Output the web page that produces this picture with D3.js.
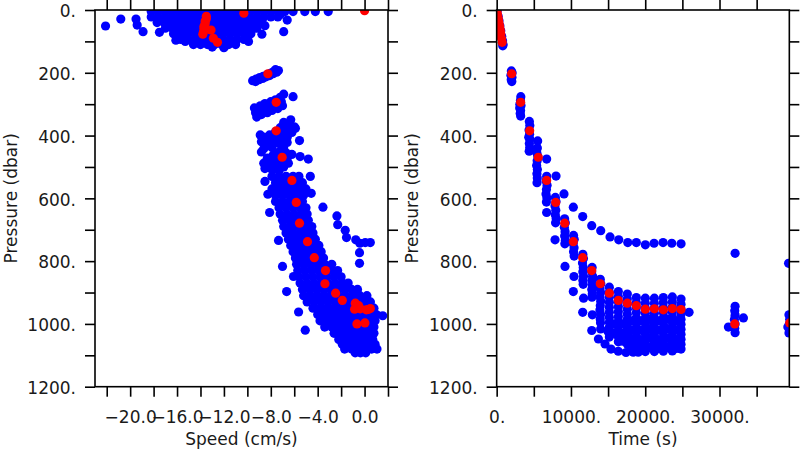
<!DOCTYPE html>
<html><head><meta charset="utf-8">
<script src="https://cdn.jsdelivr.net/npm/d3@7/dist/d3.min.js"></script>
<style>
body{margin:0;background:#fff;}
svg text{font-family:"DejaVu Sans",sans-serif;font-size:17px;fill:#1a1a1a;}
</style>
</head><body>
<svg id="chart" width="800" height="450"></svg>
<script>
// ---------- tick values / labels ----------
const pressureTicks = [0,100,200,300,400,500,600,700,800,900,1000,1100,1200];
const pressureLabels = [0,200,400,600,800,1000,1200];
const speedTicks = [-22,-20,-18,-16,-14,-12,-10,-8,-6,-4,-2,0,2];
const speedLabels = [-20,-16,-12,-8,-4,0];
const timeTicks = [0,5000,10000,15000,20000,25000,30000,35000];
const timeLabels = [0,10000,20000,30000];

// ---------- bin means (red) ----------
const meanPressure = [2,10,20,28,36,44,52,58,64,70,77,90,103,203,294,385,469,543,613,679,738,789,830,872,902,925,934,942,953,952,955,951,954,1000,997];
const meanSpeed = [0.0,-10.3,-13.5,-13.5,-13.6,-13.6,-13.7,-13.7,-13.1,-13.75,-13.8,-12.9,-12.55,-8.25,-7.54,-7.54,-7.03,-6.2,-5.83,-5.55,-4.87,-4.29,-3.33,-3.38,-2.47,-1.9,-0.79,-0.5,-0.85,-0.37,0.15,0.49,0.3,-0.65,0.03];
const meanTime = [0,70,140,200,260,320,380,420,460,500,550,640,740,2020,3230,4440,5600,6730,7950,9160,10320,11580,12790,13950,15170,16380,17590,18800,20010,21230,22440,23650,24820,32050,39450];

// ---------- raw samples, speed panel: rows [pressure, speeds] ----------
const speedRows = [
 [5,[-18.2,-17.6,-17.0,-16.4,-15.8,-15.2,-14.6,-14.0,-13.4,-12.8,-12.2,-11.6,-11.0,-10.4,-9.8,-9.2,-8.6,-8.0,-7.4,-6.8,-6.1,-5.1,-4.2,-3.1]],
 [22,[-18.2,-17.6,-17.0,-16.4,-15.8,-15.2,-14.6,-14.0,-13.4,-12.8,-12.2,-11.6,-11.0,-10.4,-9.8,-9.2,-8.6,-8.0,-7.4]],
 [40,[-17.7,-17.1,-16.5,-15.9,-15.3,-14.7,-14.1,-13.5,-12.9,-12.3,-11.7,-11.1,-10.5,-9.9,-9.3,-8.8]],
 [58,[-17.0,-16.4,-15.8,-15.2,-14.6,-14.0,-13.4,-12.8,-12.2,-11.6,-11.0,-10.4,-9.8,-9.2]],
 [76,[-16.3,-15.7,-15.1,-14.5,-13.9,-13.3,-12.7,-12.1,-11.5,-10.9,-10.3,-9.7]],
 [94,[-15.7,-15.1,-14.5,-13.9,-13.3,-12.7,-12.1,-11.5,-10.9,-10.3,-10.0]],
 [110,[-14.6,-14.0,-13.4,-12.8,-12.2,-11.6,-11.0]],
 [530,[-7.9,-7.3,-6.7,-6.1,-5.6]],
 [550,[-7.6,-7.0,-6.4,-5.8,-5.3]],
 [570,[-7.9,-7.3,-6.7,-6.1,-5.5,-5.0]],
 [590,[-7.6,-7.0,-6.4,-5.8,-5.2]],
 [610,[-7.6,-7.0,-6.4,-5.8,-5.3]],
 [630,[-7.3,-6.7,-6.1,-5.5,-5.0]],
 [650,[-7.2,-6.6,-6.0,-5.4,-4.9]],
 [670,[-7.0,-6.4,-5.8,-5.2,-4.8]],
 [690,[-6.9,-6.3,-5.7,-5.1,-4.5]],
 [710,[-6.7,-6.1,-5.5,-4.9,-4.4]],
 [730,[-6.5,-5.9,-5.3,-4.7,-4.2]],
 [750,[-6.3,-5.7,-5.1,-4.5,-3.9]],
 [770,[-6.1,-5.5,-4.9,-4.3,-3.7]],
 [790,[-5.9,-5.3,-4.7,-4.1,-3.5]],
 [810,[-5.8,-5.2,-4.6,-4.0,-3.4,-2.8]],
 [830,[-5.7,-5.1,-4.5,-3.9,-3.3,-2.7,-2.3]],
 [850,[-5.6,-5.0,-4.4,-3.8,-3.2,-2.6,-2.0]],
 [870,[-5.5,-4.9,-4.3,-3.7,-3.1,-2.5,-1.9,-1.4]],
 [890,[-5.3,-4.7,-4.1,-3.5,-2.9,-2.3,-1.7,-1.1,-0.6]],
 [910,[-5.2,-4.6,-4.0,-3.4,-2.8,-2.2,-1.6,-1.0,-0.4,0.2]],
 [930,[-4.9,-4.3,-3.7,-3.1,-2.5,-1.9,-1.3,-0.7,-0.1,0.5]],
 [950,[-4.4,-3.8,-3.2,-2.6,-2.0,-1.4,-0.8,-0.2,0.4,0.8]],
 [970,[-4.0,-3.4,-2.8,-2.2,-1.6,-1.0,-0.4,0.2,0.7,1.0]],
 [990,[-3.8,-3.2,-2.6,-2.0,-1.4,-0.8,-0.2,0.4,0.9]],
 [1010,[-3.4,-2.8,-2.2,-1.6,-1.0,-0.4,0.2,0.8]],
 [1030,[-2.6,-2.0,-1.4,-0.8,-0.2,0.4,0.8]],
 [1050,[-2.2,-1.6,-1.0,-0.4,0.2,0.7]],
 [1065,[-1.9,-1.3,-0.7,-0.1,0.5,0.9]],
 [1080,[-1.7,-1.1,-0.5,0.1,0.6,1.06]],
 [1092,[-0.8,-0.35,0.1]]
];
// scattered samples, speed panel: [speed, pressure]
const speedScatter = [
 [-22.1,51],[-20.8,29],[-19.5,29],[-19.4,48],[-18.9,69],[-17.5,71],[-16.1,96],[-15.3,100],[-9.9,100],[-8.76,77],[-6.9,69],[-6.6,32],[-8.5,50],[-7.2,15],[-13.0,118],[-12.0,120],
 [-9.55,225],[-9.25,220],[-8.95,215],[-8.65,211],[-8.35,207],[-8.05,202],[-7.75,196],[-7.6,190],[-9.3,228],[-9.0,222],[-8.7,218],[-8.4,213],[-8.1,209],[-7.8,203],[-7.5,198],[-7.35,193],
 [-9.4,312],[-9.3,327],[-8.9,305],[-8.9,320],[-8.8,333],[-8.5,298],[-8.4,313],[-8.3,327],[-8.0,292],[-8.0,307],[-7.9,320],[-7.6,286],[-7.5,300],[-7.4,314],[-7.2,278],[-7.1,292],[-7.0,305],[-6.9,268],[-6.1,276],[-9.2,341],
 [-6.3,350],[-6.9,358],[-6.6,368],[-6.0,372],[-7.2,375],[-6.7,385],[-6.2,390],[-7.6,388],[-7.1,398],[-6.6,405],[-8.1,398],[-7.6,405],[-7.1,415],[-6.6,422],[-8.6,405],[-8.1,415],[-7.6,423],[-7.1,432],[-8.9,398],[-8.8,420],[-8.4,432],[-7.9,438],[-8.6,442],[-5.55,416],[-5.9,377],
 [-6.9,440],[-7.3,452],[-6.7,455],[-6.2,460],[-7.8,462],[-7.2,468],[-6.6,472],[-8.3,472],[-7.7,478],[-7.1,485],[-6.5,488],[-8.6,488],[-8.1,492],[-7.5,497],[-6.9,500],[-8.5,505],[-7.9,508],[-7.3,512],[-5.5,467],[-4.8,475],[-4.63,530],[-8.5,546],[-8.8,452],
 [-8.25,587],[-8.1,645],[-7.34,734],[-7.0,817],[-6.06,849],[-6.65,897],[-4.55,584],[-5.63,962],[-5.06,1020],[1.55,974],
 [-3.55,628],[-2.36,656],[-2.29,684],[-1.65,702],[-1.54,725],[-0.75,732],[-0.4,743],[0.06,741],[0.49,741],[-0.43,773],[-0.43,807]
];

// ---------- raw samples, time panel: columns [time, pressures] ----------
const timeColumns = [
 [15170,[883,899,915,931,947,963,979,995,1011,1027,1042]],
 [16380,[897,913,929,945,961,977,993,1009,1025,1041,1057]],
 [17590,[905,921,937,953,969,985,1001,1017,1033,1049,1065]],
 [18800,[916,932,948,964,980,996,1012,1028,1044,1060,1076,1086]],
 [20010,[918,934,950,966,982,998,1014,1030,1046,1062,1078,1088]],
 [21230,[918,934,950,966,982,998,1014,1030,1046,1062,1078,1088]],
 [22440,[916,932,948,964,980,996,1012,1028,1044,1060,1076,1087]],
 [23650,[914,930,946,962,978,994,1010,1026,1042,1058,1074,1086]],
 [24820,[921,937,953,969,985,1001,1017,1033,1049,1065,1080]]
];
// scattered samples, time panel: [time, pressure]
const timeScatter = [
 [60,4],[200,20],[310,34],[430,50],[550,66],[680,84],[790,98],[860,110],[820,114],
 [1980,194],[2080,200],[1920,208],[2060,214],[1960,222],[2040,228],
 [3250,276],[3200,288],[3120,300],[3280,304],[3100,312],[3220,320],[3170,330],[3230,338],
 [4400,355],[4460,368],[4360,382],[4430,396],[4320,405],[4470,412],[4400,425],[4450,438],[4380,450],[5520,417],
 [5480,440],[5400,455],[5530,465],[5450,480],[5380,495],[5480,508],[5420,522],[5470,535],[5430,550],[6730,475],
 [6730,530],[6650,545],[6790,558],[6700,572],[6640,586],[6760,598],[6700,612],[6730,645],
 [7900,597],[7990,610],[7850,624],[7960,638],[7890,652],[8010,664],[7930,678],[7860,732],[7990,529],
 [9150,665],[9240,678],[9110,692],[9210,706],[9150,720],[9240,734],[9180,745],[9065,586],[9200,817],
 [10350,718],[10440,730],[10300,744],[10420,757],[10350,770],[10430,784],[10318,628],[10410,849],[10318,897],
 [11600,778],[11680,792],[11550,806],[11660,820],[11600,834],[11690,848],[11610,862],[11650,874],[11584,658],[11700,918],[11584,963],
 [12850,820],[12790,834],[12920,848],[12820,862],[12890,876],[12800,890],[12870,904],[12830,915],[12797,687],[12880,971],[12800,1021],
 [13950,858],[14020,872],[13900,886],[14000,900],[13920,914],[14010,928],[13950,942],[13900,956],[13990,970],[13940,984],[13980,996],[14009,703],[14000,1016],[13700,1048],
 [14590,1064],[15390,1080],[16370,1087],[17410,1091],[18390,1090],[19060,1090],[14990,1024],[16120,1029],[17240,1040],[17920,1045],
 [15800,1000],[15800,1030],[16950,1000],[16950,1030],[16950,1055],[18200,990],[18200,1020],[18200,1050],[18200,1075],
 [19400,990],[19400,1020],[19400,1050],[19400,1078],[20600,985],[20600,1015],[20600,1045],[20600,1075],
 [21800,990],[21800,1020],[21800,1050],[21800,1078],[23000,985],[23000,1015],[23000,1045],[23000,1075],
 [24200,990],[24200,1020],[24200,1050],[24200,1078],
 [15262,723],[16433,732],[17646,741],[18804,741],[20016,748],[21188,743],[22400,741],[23573,743],[24826,745],
 [25900,963],
 [32100,775],[32100,944],[32050,958],[32100,972],[32000,986],[32100,1000],[32050,1014],[32100,1028],[31200,1010],[33220,981],
 [39300,807],[39350,971],[39450,985],[39200,1010],[39400,1000],[39350,1029],[39450,1015]
];

// ---------- drawing ----------
const svg = d3.select("#chart");
const yTop = 10, yBot = 386.7, R = 4.6;
const y = d3.scaleLinear().domain([0, 1200]).range([yTop, yBot]);

const speedBlue = speedRows.flatMap(([p, ss]) => ss.map(s => [s, p])).concat(speedScatter);
const timeBlue = timeColumns.flatMap(([t, ps]) => ps.map(p => [t, p])).concat(timeScatter);
const speedRed = meanSpeed.map((s, i) => [s, meanPressure[i]]);
const timeRed = meanTime.map((t, i) => [t, meanPressure[i]]);

const fmtNum = (d, dec) => (d < 0 ? "\u2212" : "") + Math.abs(d).toFixed(dec) + (dec === 0 ? "." : "");

function drawPanel(o) {
  const x = d3.scaleLinear().domain(o.domain).range([o.x0, o.x1]);
  const g = svg.append("g");
  svg.append("clipPath").attr("id", o.id).append("rect")
    .attr("x", o.x0).attr("y", yTop).attr("width", o.x1 - o.x0).attr("height", yBot - yTop);
  const dots = g.append("g").attr("clip-path", `url(#${o.id})`);
  dots.selectAll("circle.b").data(o.blue).join("circle").attr("class", "b")
    .attr("cx", d => x(d[0])).attr("cy", d => y(d[1])).attr("r", R).attr("fill", "#0000ff");
  dots.selectAll("circle.r").data(o.red).join("circle").attr("class", "r")
    .attr("cx", d => x(d[0])).attr("cy", d => y(d[1])).attr("r", R).attr("fill", "#ff0000");

  const style = sel => {
    sel.attr("font-family", null).attr("font-size", null);
    sel.select(".domain").remove();
    sel.selectAll(".tick line").attr("stroke", "#000").attr("stroke-width", 1.6);
  };
  const bottom = g.append("g").attr("transform", `translate(0,${yBot})`)
    .call(d3.axisBottom(x).tickValues(o.ticks).tickSize(10)
      .tickFormat(d => o.labels.includes(d) ? o.fmt(d) : ""));
  style(bottom);
  bottom.selectAll("text").attr("y", 36.6).attr("dy", null);
  const top = g.append("g").attr("transform", `translate(0,${yTop})`)
    .call(d3.axisTop(x).tickValues(o.ticks).tickSize(10).tickFormat(""));
  style(top);
  const left = g.append("g").attr("transform", `translate(${o.x0},0)`)
    .call(d3.axisLeft(y).tickValues(pressureTicks).tickSize(10).tickPadding(9)
      .tickFormat(d => pressureLabels.includes(d) ? d + "." : ""));
  style(left);
  left.selectAll("text").attr("dy", "0.4em");
  const right = g.append("g").attr("transform", `translate(${o.x1},0)`)
    .call(d3.axisRight(y).tickValues(pressureTicks).tickSize(10).tickFormat(""));
  style(right);

  g.append("rect").attr("x", o.x0).attr("y", yTop).attr("width", o.x1 - o.x0).attr("height", yBot - yTop)
    .attr("fill", "none").attr("stroke", "#000").attr("stroke-width", 1.6);

  g.append("text").attr("x", (o.x0 + o.x1) / 2).attr("y", 445).attr("text-anchor", "middle").text(o.title);
  g.append("text").attr("transform", `translate(${o.ylabX},${(yTop + yBot) / 2}) rotate(-90)`)
    .attr("text-anchor", "middle").text("Pressure (dbar)");
}

drawPanel({id: "clipSpeed", x0: 95, x1: 388, domain: [-23, 2], ticks: speedTicks, labels: speedLabels,
  fmt: d => fmtNum(d, 1), title: "Speed (cm/s)", ylabX: 17, blue: speedBlue, red: speedRed});
drawPanel({id: "clipTime", x0: 496.67, x1: 789.33, domain: [0, 39400], ticks: timeTicks, labels: timeLabels,
  fmt: d => fmtNum(d, 0), title: "Time (s)", ylabX: 418, blue: timeBlue, red: timeRed});
</script>
</body></html>
